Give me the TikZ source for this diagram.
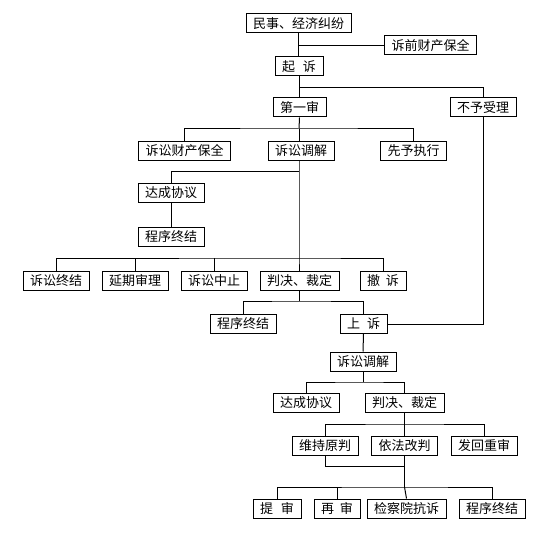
\documentclass[tikz,border=0pt]{standalone}
\usepackage{fontspec}
\setmainfont{Noto Sans CJK SC}
\begin{document}
\begin{tikzpicture}[x=1pt,y=-1pt,line width=1pt,
  box/.style={draw,rectangle,inner xsep=7pt,inner ysep=0pt,minimum height=19pt,font=\fontsize{13}{13}\selectfont},
  gap/.style={}]
\useasboundingbox (0,0) rectangle (541,548);
% top part
\node[box] (mshi) at (298.5,23.5) {民事、经济纠纷};
\node[box] (qianbq) at (430.5,45.5) {诉前财产保全};
\node[box] (qisu) at (299,66.5) {起\hspace{8pt}诉};
\node[box] (yishen) at (299.5,107.5) {第一审};
\node[box] (buli) at (483,107.5) {不予受理};
\node[box] (ssbq) at (184.5,151) {诉讼财产保全};
\node[box] (sstj) at (301,151) {诉讼调解};
\node[box] (xyzx) at (413.5,151) {先予执行};
\node[box] (dcxy) at (171,193) {达成协议};
\node[box] (cxzj) at (171,236.5) {程序终结};
% first instance results
\node[box] (sszj) at (56,280.5) {诉讼终结};
\node[box] (yqsl) at (135,280.5) {延期审理};
\node[box] (sszz) at (214,280.5) {诉讼中止};
\node[box] (pjcd) at (299.5,280.5) {判决、裁定};
\node[box] (chesu) at (383,280.5) {撤\hspace{6pt}诉};
\node[box] (cxzjb) at (243,324) {程序终结};
\node[box] (shangsu) at (363.5,324) {上\hspace{7pt}诉};
% second instance
\node[box] (sstjb) at (363,361.5) {诉讼调解};
\node[box] (dcxyb) at (306,402.5) {达成协议};
\node[box] (pjcdb) at (404.5,402.5) {判决、裁定};
\node[box] (wcyp) at (325,445.5) {维持原判};
\node[box] (yfgp) at (404.5,445.5) {依法改判};
\node[box] (fhcs) at (484,445.5) {发回重审};
\node[box] (tishen) at (277,508.5) {提\hspace{8pt}审};
\node[box] (zaishen) at (337,508.5) {再\hspace{6pt}审};
\node[box] (jcy) at (406.5,508.5) {检察院抗诉};
\node[box] (cxzjc) at (492,508.5) {程序终结};
% branch points
\coordinate (b1) at (299,129);
\coordinate (b2) at (299,171);
\coordinate (b3) at (299,258);
\coordinate (b4) at (299.5,301);
\coordinate (b5) at (363,382);
\coordinate (b6) at (404.5,424);
\coordinate (b7) at (404.5,466);
\coordinate (b8) at (404.5,487);
% connectors
\draw (mshi.south) -- (mshi.south |- qisu.north);
\draw (qianbq.west) -- (qianbq.west -| mshi.south);
\draw (qisu.south) -- (qisu.south |- yishen.north);
\draw (qisu.south |- 0,88) -| (buli.north);
\draw (yishen.south) -- (b1);
\draw (ssbq.north) |- (b1) -| (xyzx.north);
\draw (b1) -- (b1 |- sstj.north);
\draw (b2 |- sstj.south) -- (b3) -- (b3 |- pjcd.north);
\draw (b2) -| (dcxy.north);
\draw (dcxy.south) -- (cxzj.north);
\draw (sszj.north) |- (b3) -| (chesu.north);
\draw (yqsl.north) -- (yqsl.north |- b3);
\draw (sszz.north) -- (sszz.north |- b3);
\draw (pjcd.south) -- (b4);
\draw (cxzjb.north) |- (b4) -| (shangsu.north);
\draw (shangsu.east) -| (buli.south);
\draw (shangsu.south) -- (sstjb.north);
\draw (sstjb.south) -- (b5);
\draw (dcxyb.north) |- (b5) -| (pjcdb.north);
\draw (pjcdb.south) -- (b6);
\draw (wcyp.north) |- (b6) -| (fhcs.north);
\draw (b6) -- (yfgp.north);
\draw (wcyp.south) |- (b7);
\draw (yfgp.south) -- (b8);
\draw (tishen.north) |- (b8) -| (cxzjc.north);
\draw (zaishen.north) -- (zaishen.north |- b8);
\draw (b8) -- (jcy.north);
\end{tikzpicture}
\end{document}
